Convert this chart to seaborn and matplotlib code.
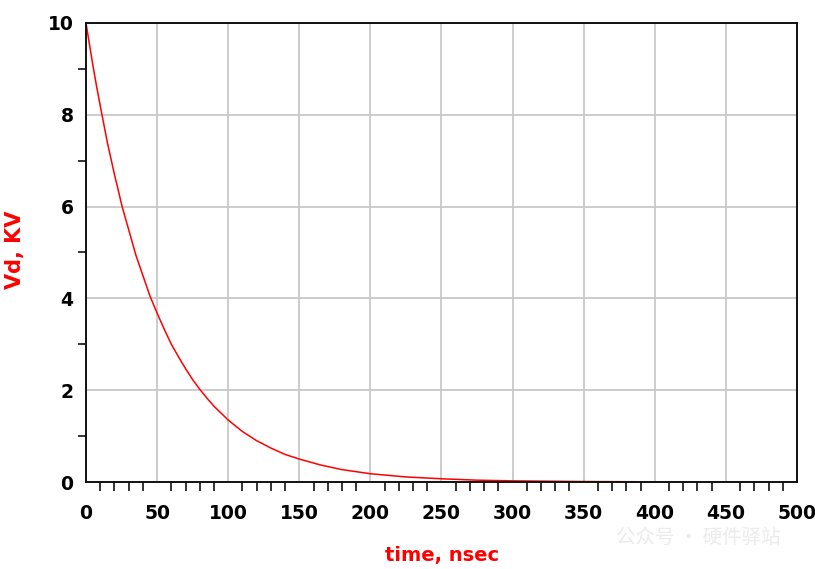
import matplotlib
matplotlib.use("Agg")
import matplotlib.pyplot as plt
import seaborn as sns
import pandas as pd
from matplotlib.ticker import MultipleLocator

# Values
time_ns = [0, 2.5, 5, 7.5, 10, 12.5, 15, 17.5, 20, 22.5, 25, 27.5, 30, 35,
           40, 45, 50, 55, 60, 65, 70, 75, 80, 85, 90, 95, 100, 110, 120,
           130, 140, 150, 165, 180, 200, 225, 250, 275, 300, 350, 400, 450,
           500]
vd_kv = [10.0, 9.52, 9.05, 8.61, 8.2, 7.8, 7.4, 7.05, 6.7, 6.38, 6.05, 5.77,
         5.5, 4.95, 4.5, 4.05, 3.68, 3.33, 3.0, 2.73, 2.47, 2.23, 2.02, 1.83,
         1.65, 1.5, 1.35, 1.1, 0.9, 0.74, 0.6, 0.5, 0.37, 0.27, 0.18, 0.11,
         0.07, 0.04, 0.025, 0.01, 0.004, 0.001, 0.0]
x_ticks = [0, 50, 100, 150, 200, 250, 300, 350, 400, 450, 500]
y_ticks = [0, 2, 4, 6, 8, 10]

df = pd.DataFrame({"time": time_ns, "vd": vd_kv})

sns.set_theme(style="white")
plt.rcParams['font.family'] = ['DejaVu Sans']

fig = plt.figure(figsize=(8.15, 5.69), dpi=100)
ax = fig.add_axes([86/815, 1-482/569, (797-86)/815, (482-23)/569])

ax.grid(True, which="major", color="#c8c8c8", linewidth=1.3)
ax.set_axisbelow(True)
sns.lineplot(data=df, x="time", y="vd", ax=ax, color="#ff0000", linewidth=1.1)

ax.set_xlim(0, 500)
ax.set_ylim(0, 10)
ax.set_xticks(x_ticks)
ax.set_yticks(y_ticks)
ax.xaxis.set_minor_locator(MultipleLocator(10))
ax.yaxis.set_minor_locator(MultipleLocator(1))

for s in ax.spines.values():
    s.set_color("#111111")
    s.set_linewidth(1.4)

ax.tick_params(axis="x", which="major", direction="out", length=12, width=1.4,
               color="#111111", labelsize=13.5, pad=4)
ax.tick_params(axis="x", which="minor", direction="out", length=6.5, width=1.2,
               color="#111111", bottom=True)
ax.tick_params(axis="y", which="major", direction="out", length=8, width=1.4,
               color="#111111", labelsize=13.5, pad=1)
ax.tick_params(axis="y", which="minor", direction="out", length=6, width=1.2,
               color="#111111", left=True)
for lab in ax.get_xticklabels() + ax.get_yticklabels():
    lab.set_fontweight("bold")
    lab.set_color("black")

ax.set_xlabel("")
ax.set_ylabel("")
fig.text(442/815, 1-555/569, "time, nsec", color="#ff0000", fontsize=14,
         fontweight="bold", ha="center", va="center")
fig.text(15/815, 1-250/569, "Vd, KV", color="#ff0000", fontsize=15,
         fontweight="bold", ha="center", va="center", rotation=90)

fig.text(698/815, 1-537/569, "公众号 · 硬件驿站", color="#ebebeb", fontsize=14,
         ha="center", va="center", family=["Noto Sans CJK SC", "DejaVu Sans"])

fig.savefig("out.png", dpi=100)
